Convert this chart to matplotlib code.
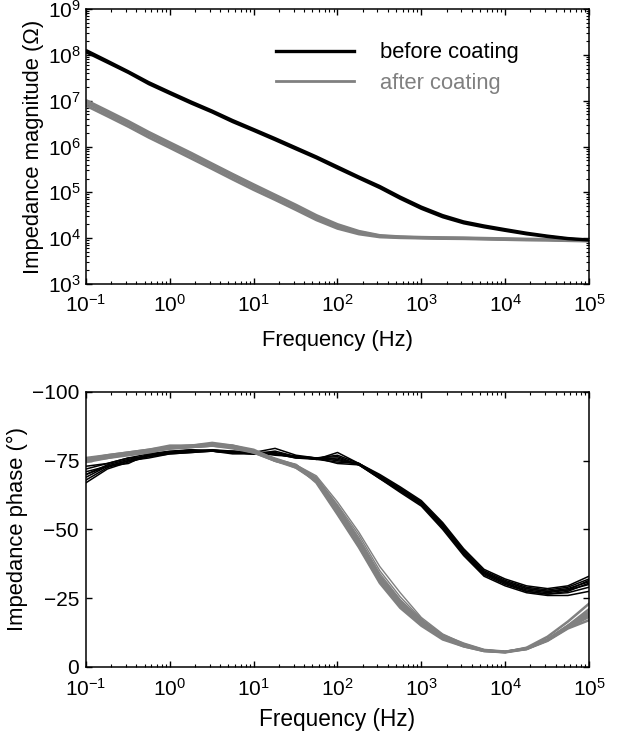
import matplotlib
matplotlib.use("Agg")
import math
import matplotlib.pyplot as plt
from matplotlib.ticker import LogLocator, FixedLocator, NullLocator, FuncFormatter

plt.rcParams['font.family'] = ['Liberation Sans', 'DejaVu Sans']
plt.rcParams['mathtext.fontset'] = 'custom'
plt.rcParams['mathtext.rm'] = 'Liberation Sans'
plt.rcParams['mathtext.it'] = 'Liberation Sans:italic'
plt.rcParams['mathtext.bf'] = 'Liberation Sans:bold'

# ---------------- data ----------------
freq = [0.1, 0.18, 0.32, 0.56, 1, 1.8, 3.2, 5.6, 10, 18, 32, 56, 100, 180, 320, 560,
        1000, 1800, 3200, 5600, 1e4, 1.8e4, 3.2e4, 5.6e4, 1e5]

mag_before_1 = [1.20e8, 7.1e7, 4.2e7, 2.4e7, 1.48e7, 9.1e6, 5.8e6, 3.6e6, 2.3e6, 1.45e6, 9.1e5, 5.8e5,
                3.5e5, 2.1e5, 1.3e5, 7.6e4, 4.6e4, 3.0e4, 2.2e4, 1.8e4, 1.5e4, 1.26e4, 1.1e4, 9.8e3, 9.1e3]
mag_before_2 = [1.28e8, 7.5e7, 4.4e7, 2.55e7, 1.56e7, 9.6e6, 6.1e6, 3.8e6, 2.42e6, 1.53e6, 9.6e5, 6.1e5,
                3.7e5, 2.22e5, 1.38e5, 8.1e4, 4.9e4, 3.2e4, 2.33e4, 1.9e4, 1.58e4, 1.32e4, 1.14e4, 1.01e4, 9.4e3]
mag_before_3 = [1.13e8, 6.7e7, 4.0e7, 2.28e7, 1.4e7, 8.6e6, 5.5e6, 3.4e6, 2.18e6, 1.37e6, 8.6e5, 5.5e5,
                3.3e5, 2.0e5, 1.23e5, 7.2e4, 4.35e4, 2.85e4, 2.1e4, 1.72e4, 1.44e4, 1.21e4, 1.06e4, 9.5e3, 8.9e3]

mag_after_1 = [8.9e6, 5.2e6, 3.1e6, 1.8e6, 1.07e6, 6.3e5, 3.7e5, 2.2e5, 1.3e5, 7.8e4, 4.7e4, 2.8e4,
               1.8e4, 1.32e4, 1.1e4, 1.05e4, 1.02e4, 1.0e4, 9.9e3, 9.7e3, 9.5e3, 9.3e3, 9.2e3, 9.0e3, 8.9e3]
mag_after_2 = [1.02e7, 6.0e6, 3.55e6, 2.06e6, 1.22e6, 7.2e5, 4.2e5, 2.5e5, 1.48e5, 8.8e4, 5.3e4, 3.15e4,
               2.0e4, 1.42e4, 1.15e4, 1.08e4, 1.05e4, 1.03e4, 1.02e4, 1.0e4, 9.8e3, 9.6e3, 9.5e3, 9.3e3, 9.2e3]
mag_after_3 = [7.8e6, 4.6e6, 2.72e6, 1.58e6, 9.4e5, 5.5e5, 3.25e5, 1.93e5, 1.14e5, 6.9e4, 4.15e4, 2.5e4,
               1.63e4, 1.23e4, 1.06e4, 1.02e4, 1.0e4, 9.8e3, 9.7e3, 9.5e3, 9.3e3, 9.1e3, 9.0e3, 8.8e3, 8.6e3]
mag_after_4 = [9.5e6, 5.6e6, 3.3e6, 1.92e6, 1.14e6, 6.7e5, 3.95e5, 2.35e5, 1.39e5, 8.3e4, 5.0e4, 2.97e4,
               1.9e4, 1.37e4, 1.12e4, 1.06e4, 1.03e4, 1.01e4, 1.0e4, 9.8e3, 9.6e3, 9.4e3, 9.3e3, 9.1e3, 9.0e3]

phase_before = [
    [-67, -72, -74.5, -76.5, -77.5, -78, -78.5, -78, -77.5, -78.5, -76.5, -76, -74, -73.5, -69.5, -65, -60, -52, -42.5, -35, -31.5, -29, -28, -29, -32],
    [-69, -73, -75, -77, -78, -78.5, -78.5, -78, -78, -77.5, -76.5, -76, -77, -74, -69, -64.5, -59.5, -51, -41.5, -34, -30.5, -28, -27, -28, -30],
    [-70, -73.5, -75.5, -77, -78, -78.5, -79, -78.5, -78, -79.5, -77, -76, -75.5, -73.5, -68.5, -64, -59, -50.5, -41, -33.5, -30, -27.5, -26.5, -27, -29],
    [-71, -73, -74, -77.5, -78.5, -79, -78.5, -78.5, -78, -77, -76.5, -75.5, -78, -74, -69.5, -65, -60, -51.5, -42, -34.5, -31, -28.5, -27.5, -28.5, -31],
    [-72, -74, -76, -77.5, -78, -78.5, -79, -78, -77.5, -77.5, -76, -76, -76.5, -73.5, -68.5, -63.5, -58.5, -50, -40.5, -33, -29.5, -27, -26, -26, -27.5],
    [-68, -72.5, -75, -77, -78, -79, -78.5, -78, -78, -78, -76.5, -75.5, -74.5, -74, -70, -65.5, -60.5, -52.5, -43, -35.5, -32, -29.5, -28.5, -29.5, -33],
    [-73, -74, -76, -76.5, -78, -78.5, -78.5, -78, -77.5, -77.5, -76, -75.5, -76, -73.5, -69, -64, -59, -51, -41.5, -34, -30.5, -27.5, -26.5, -27.5, -30.5],
    [-70, -73, -75, -76, -77.5, -78, -78.5, -77.5, -77.5, -77.5, -76.5, -76, -75, -74, -69.5, -64.5, -59.5, -51.5, -42, -34.5, -31, -28.5, -27.5, -28, -31.5],
]

phase_after = [
    [-75.5, -76.5, -77.5, -78.5, -79.5, -80, -80.5, -80, -78.5, -75, -73, -68, -57, -45, -32, -23, -16, -11, -8, -6, -5.5, -6.8, -9.8, -14.5, -19],
    [-75, -76, -77.5, -78.5, -80, -80.5, -81, -80.5, -78.5, -75.5, -72.5, -67.5, -56, -44, -31, -22, -15.5, -10.5, -7.5, -5.8, -5.3, -6.5, -10, -15, -21],
    [-74.5, -76, -77, -78, -79.5, -80, -80.5, -80, -78, -75, -73, -68.5, -58, -46, -33, -24, -17, -11.5, -8.5, -6.2, -5.6, -6.5, -9.5, -14, -17],
    [-76, -77, -78, -79, -80.5, -80.5, -81.5, -80.5, -79, -75.5, -73.5, -67, -55.5, -43.5, -30.5, -21.5, -15, -10, -7.5, -5.8, -5.4, -7, -11, -16.5, -23],
    [-75, -76.5, -77.5, -78.5, -79.5, -80, -80.5, -79.5, -78, -75, -72.5, -68, -57, -45.5, -32.5, -23.5, -16.5, -11, -8, -6, -5.5, -6.8, -10, -15, -20],
    [-75.5, -77, -78, -79, -80, -80.5, -81, -80, -78.5, -75.5, -73, -67.5, -56.5, -44.5, -31.5, -22.5, -15.8, -10.8, -7.8, -5.9, -5.4, -6.6, -9.7, -14.5, -18.5],
]
phase_after_thin = [
    [-75, -76.5, -77.5, -78.5, -79.5, -80, -80.5, -80, -78.5, -75.5, -73.5, -69.5, -60, -49, -36.5, -27, -18, -12, -8.5, -6.3, -5.5, -6.5, -9.5, -14, -18],
    [-75.5, -76.5, -78, -79, -80, -80.5, -81, -80.5, -78.5, -76, -73.5, -69, -59, -48, -35, -25.5, -17.5, -11.5, -8.3, -6.2, -5.5, -6.8, -10, -15, -19.5],
    [-75, -76, -77.5, -78.5, -79.5, -80, -80.5, -80, -78.5, -75.5, -73.5, -68.5, -58.5, -47, -34, -24.5, -17, -11.3, -8.2, -6.1, -5.5, -6.6, -9.6, -14.3, -18.5],
]

series_labels = ["before coating", "after coating"]
x_ticks = [1e-1, 1e0, 1e1, 1e2, 1e3, 1e4, 1e5]
mag_ticks = [1e3, 1e4, 1e5, 1e6, 1e7, 1e8, 1e9]
phase_ticks = [-100, -75, -50, -25, 0]

BLACK = "#000000"
GRAY = "#808080"
TICK_FS = 15
LABEL_FS = 15.8

fig = plt.figure(figsize=(6.17, 7.36), dpi=100)
ax1 = fig.add_axes([0.1394, 0.6141, 0.8152, 0.3737])
ax2 = fig.add_axes([0.1394, 0.0938, 0.8152, 0.3736])

# ---- top panel ----
for m in [mag_after_1, mag_after_2, mag_after_3, mag_after_4]:
    ax1.plot(freq, m, color=GRAY, lw=2.0, solid_capstyle='butt')
for m in [mag_before_1, mag_before_2, mag_before_3]:
    ax1.plot(freq, m, color=BLACK, lw=1.6, solid_capstyle='butt')
h1, = ax1.plot([], [], color=BLACK, lw=2.4, label=series_labels[0])
h2, = ax1.plot([], [], color=GRAY, lw=2.0, label=series_labels[1])

ax1.set_xscale('log')
ax1.set_yscale('log')
ax1.set_xlim(1e-1, 1e5)
ax1.set_ylim(1e3, 1e9)
ax1.set_xticks(x_ticks)
ax1.set_yticks(mag_ticks)


def logfmt_hyphen(v, pos):
    e = int(round(math.log10(v)))
    if e < 0:
        return r'$10^{\mathrm{-}%d}$' % (-e)
    return r'$10^{%d}$' % e


ax1.xaxis.set_major_formatter(FuncFormatter(logfmt_hyphen))
ax1.yaxis.set_major_formatter(FuncFormatter(logfmt_hyphen))
ax1.xaxis.set_minor_locator(LogLocator(base=10, subs=range(2, 10), numticks=20))
ax1.yaxis.set_minor_locator(LogLocator(base=10, subs=range(2, 10), numticks=20))
ax1.set_xlabel("Frequency (Hz)", fontsize=LABEL_FS, labelpad=10)
ax1.set_ylabel("Impedance magnitude (\u03a9)", fontsize=LABEL_FS, labelpad=3)

leg = ax1.legend(handles=[h1, h2], loc='upper right', bbox_to_anchor=(0.9, 0.95),
                 frameon=False, fontsize=LABEL_FS, handlelength=3.55, handletextpad=1.2,
                 labelspacing=0.42, labelcolor='linecolor')

# ---- bottom panel ----
for p in phase_before:
    ax2.plot(freq, p, color=BLACK, lw=1.1)
for p in phase_after:
    ax2.plot(freq, p, color=GRAY, lw=1.8)
for p in phase_after_thin:
    ax2.plot(freq, p, color=GRAY, lw=1.0)

ax2.set_xscale('log')
ax2.set_xlim(1e-1, 1e5)
ax2.set_ylim(0, -100)
ax2.set_xticks(x_ticks)
ax2.xaxis.set_minor_locator(LogLocator(base=10, subs=range(2, 10), numticks=20))
ax2.yaxis.set_major_locator(FixedLocator(phase_ticks))
ax2.yaxis.set_minor_locator(NullLocator())
ax2.yaxis.set_major_formatter(FuncFormatter(lambda v, p: ("\u2212%d" % abs(v)) if v < 0 else "%d" % v))
ax2.set_xlabel("Frequency (Hz)", fontsize=LABEL_FS + 0.5, labelpad=6)
ax2.set_ylabel("Impedance phase (\u00b0)", fontsize=LABEL_FS, labelpad=3)

for ax in (ax1, ax2):
    ax.tick_params(which='both', direction='in', top=True, right=True, labelsize=TICK_FS)
    ax.tick_params(which='major', length=4, width=1)
    ax.tick_params(which='minor', length=2, width=0.8)
    for s in ax.spines.values():
        s.set_linewidth(1.1)
ax1.tick_params(axis='x', which='major', pad=7)
ax2.tick_params(axis='x', which='major', pad=8)
ax2.tick_params(axis='y', which='major', pad=5)

fig.savefig("out.png", dpi=100)
